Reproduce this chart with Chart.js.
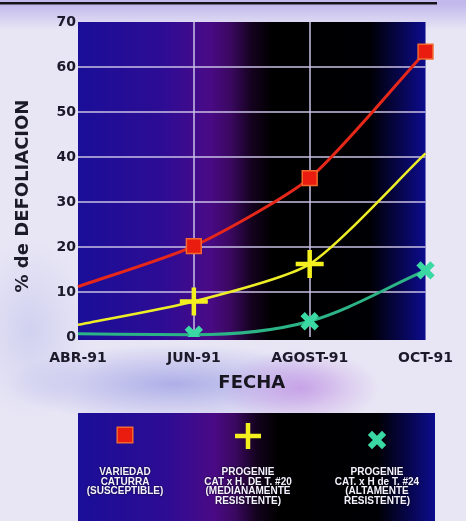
<!DOCTYPE html>
<html>
<head>
<meta charset="utf-8">
<script src="https://cdn.jsdelivr.net/npm/chart.js@4.4.1/dist/chart.umd.min.js"></script>
<style>
  html, body { margin: 0; padding: 0; }
  body {
    width: 466px; height: 521px; overflow: hidden;
    background:
      radial-gradient(ellipse 80px 38px at 300px 388px, rgba(195,150,228,0.8), rgba(195,150,228,0)),
      radial-gradient(ellipse 170px 40px at 175px 384px, rgba(155,156,228,0.75), rgba(155,156,228,0)),
      radial-gradient(ellipse 60px 90px at 30px 330px, rgba(180,184,234,0.45), rgba(180,184,234,0)),
      linear-gradient(to bottom, rgba(192,182,236,0.95) 4px, rgba(192,182,236,0) 30px),
      #e8e6f5;
  }
  #wrap { position: relative; width: 466px; height: 521px; }
</style>
</head>
<body>
<div id="wrap"><canvas id="grafico" width="466" height="521"></canvas></div>
<script>
// Fechas de muestreo
const fechas = ['ABR-91', 'JUN-91', 'AGOST-91', 'OCT-91'];

// % de defoliación por material
const caturra    = [11.2, 20.2, 35.3, 63.4];
const progenie20 = [2.7, 7.9, 16.2, 40.8];
const progenie24 = [0.7, 0.5, 3.5, 14.8];

// Eje Y
const yMin = 0, yMax = 70, yPaso = 10;

// Textos
const tituloY = '% de DEFOLIACION';
const tituloX = 'FECHA';
const leyendas = [
  ['VARIEDAD', 'CATURRA', '(SUSCEPTIBLE)'],
  ['PROGENIE', 'CAT x H. DE T. #20', '(MEDIANAMENTE', 'RESISTENTE)'],
  ['PROGENIE', 'CAT. x H de T. #24', '(ALTAMENTE', 'RESISTENTE)']
];

const FUENTE = '"DejaVu Sans", "Liberation Sans", sans-serif';

// Degradado azul-violeta-negro del fondo
function degradado(ctx, x0, x1) {
  const g = ctx.createLinearGradient(x0, 0, x1, 0);
  g.addColorStop(0.00, '#1a0e98');
  g.addColorStop(0.25, '#2e0c94');
  g.addColorStop(0.38, '#4a0a86');
  g.addColorStop(0.44, '#3a0860');
  g.addColorStop(0.50, '#14021e');
  g.addColorStop(0.56, '#000000');
  g.addColorStop(0.84, '#000004');
  g.addColorStop(0.93, '#070650');
  g.addColorStop(1.00, '#0d0c8e');
  return g;
}

const fondo = {
  id: 'fondo',
  beforeDraw(chart) {
    const { ctx, chartArea: a } = chart;
    ctx.save();
    // filete negro superior
    ctx.fillStyle = '#141418';
    ctx.fillRect(0, 2, 437, 2.5);
    // área de trazado
    ctx.fillStyle = degradado(ctx, a.left, a.right);
    ctx.fillRect(a.left, a.top, a.right - a.left, a.bottom - a.top + 3);
    ctx.restore();
  }
};

const tituloVertical = {
  id: 'tituloVertical',
  afterDraw(chart) {
    const ctx = chart.ctx;
    ctx.save();
    ctx.translate(23, 196);
    ctx.rotate(-Math.PI / 2);
    ctx.font = 'bold 18px ' + FUENTE;
    ctx.fillStyle = '#1b1a28';
    ctx.textAlign = 'center';
    ctx.textBaseline = 'middle';
    ctx.fillText(tituloY, 0, 0);
    ctx.restore();
  }
};

const leyenda = {
  id: 'leyenda',
  afterDraw(chart) {
    const ctx = chart.ctx;
    const x0 = 78, x1 = 435, y0 = 413, y1 = 521;
    ctx.save();
    ctx.fillStyle = degradado(ctx, x0, x1);
    ctx.fillRect(x0, y0, x1 - x0, y1 - y0);

    const centros = [125, 248, 377];
    const marcasY = [435, 436, 440];
    chart.data.datasets.forEach((ds, i) => {
      const est = {
        pointStyle: ds.pointStyle,
        radius: ds.legendRadius,
        borderWidth: ds.pointBorderWidth,
        rotation: 0
      };
      ctx.save();
      ctx.fillStyle = ds.pointBackgroundColor;
      ctx.strokeStyle = ds.pointBorderColor;
      ctx.lineWidth = ds.pointBorderWidth;
      Chart.helpers.drawPoint(ctx, est, centros[i], marcasY[i]);
      ctx.restore();

      ctx.save();
      ctx.font = 'bold 10px "Liberation Sans", Arial, sans-serif';
      ctx.fillStyle = '#f4f2ff';
      ctx.textAlign = 'center';
      ctx.textBaseline = 'middle';
      ctx.shadowColor = 'rgba(0,0,0,0.9)';
      ctx.shadowBlur = 2;
      leyendas[i].forEach((t, k) => ctx.fillText(t, centros[i], 472 + k * 9.8));
      ctx.restore();
    });
    ctx.restore();
  }
};

const rejilla = 'rgba(200,192,228,0.75)';

new Chart(document.getElementById('grafico'), {
  type: 'line',
  data: {
    labels: fechas,
    datasets: [
      {
        label: leyendas[0].join(' '),
        data: caturra,
        borderColor: '#e6281a',
        borderWidth: 3,
        tension: 0.22,
        pointStyle: 'rect',
        pointRadius: [0, 10.5, 10.5, 10.5],
        legendRadius: 11,
        pointBackgroundColor: '#ea1c10',
        pointBorderColor: '#f2682e',
        pointBorderWidth: 1.5
      },
      {
        label: leyendas[1].join(' '),
        data: progenie20,
        borderColor: '#eeee26',
        borderWidth: 2.5,
        tension: 0.22,
        pointStyle: 'cross',
        pointRadius: [0, 14, 14, 0],
        legendRadius: 13,
        pointBackgroundColor: '#f4f020',
        pointBorderColor: '#f4f020',
        pointBorderWidth: 4.5
      },
      {
        label: leyendas[2].join(' '),
        data: progenie24,
        borderColor: '#2cb486',
        borderWidth: 3,
        cubicInterpolationMode: 'monotone',
        pointStyle: 'crossRot',
        pointRadius: [0, 10, 10, 10],
        legendRadius: 10,
        pointBackgroundColor: '#3ad8a2',
        pointBorderColor: '#3ad8a2',
        pointBorderWidth: 6
      }
    ]
  },
  options: {
    responsive: false,
    animation: false,
    events: [],
    layout: { padding: { top: 22, right: 31, bottom: 108, left: 0 } },
    plugins: {
      legend: { display: false },
      tooltip: { enabled: false }
    },
    scales: {
      x: {
        type: 'category',
        offset: false,
        border: { display: false },
        grid: {
          drawTicks: false,
          lineWidth: 2,
          color: c => (c.index === 1 || c.index === 2) ? rejilla : 'rgba(0,0,0,0)'
        },
        ticks: {
          padding: 13,
          color: '#1c1a2a',
          font: { family: FUENTE, size: 14, weight: 'bold' },
          maxRotation: 0
        },
        title: {
          display: true,
          text: tituloX,
          color: '#17161f',
          font: { family: FUENTE, size: 18, weight: 'bold' },
          padding: { top: 0, bottom: 19 }
        },
        afterFit(s) { s.height = 76; }
      },
      y: {
        min: yMin,
        max: yMax,
        border: { display: false },
        grid: {
          drawTicks: false,
          lineWidth: 2,
          color: c => (c.tick && c.tick.value > yMin && c.tick.value < yMax) ? rejilla : 'rgba(0,0,0,0)'
        },
        ticks: {
          stepSize: yPaso,
          padding: 2,
          color: '#1c1a2a',
          font: { family: FUENTE, size: 14, weight: 'bold' }
        },
        afterFit(s) { s.width = 78; }
      }
    }
  },
  plugins: [fondo, tituloVertical, leyenda]
});
</script>
</body>
</html>
